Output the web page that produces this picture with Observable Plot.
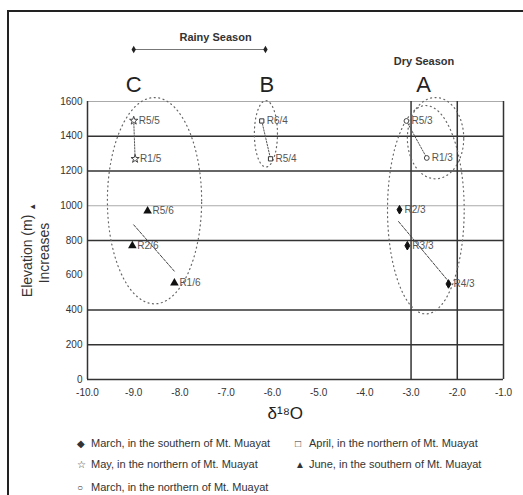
<!DOCTYPE html>
<html>
<head>
<meta charset="utf-8">
<script src="https://cdn.jsdelivr.net/npm/d3@7"></script>
<script src="https://cdn.jsdelivr.net/npm/@observablehq/plot@0.6"></script>
<style>
  html, body { margin: 0; padding: 0; background: #fff; overflow: hidden; width: 523px; height: 495px; }
  body { position: relative; font-family: "Liberation Sans", Arial, sans-serif; color: #333; }
  #frame { position: absolute; left: 7px; top: 10px; width: 700px; height: 700px; border: 2.5px solid #222; }
  #chart { position: absolute; left: 0; top: 0; }
  .ytitle { position: absolute; transform: translate(-50%, -50%) rotate(-90deg); white-space: nowrap; font-size: 14px; color: #333; }
  .leg { position: absolute; font-size: 11px; color: #333; white-space: nowrap; transform: translateY(-50%); }
  .sym { display: inline-block; width: 14px; font-size: 10px; }
</style>
</head>
<body>
<div id="frame"></div>
<div id="chart"></div>
<div class="ytitle" style="left:27px; top:250px;">Elevation (m) <span style="font-size:8px; position:relative; top:3px;">▲</span></div>
<div class="ytitle" style="left:44px; top:253px;">Increases</div>
<div id="legend"></div>
<script>
// ---- data ----
const pointLabels = ["R5/5", "R1/5", "R5/6", "R2/6", "R1/6", "R6/4", "R5/4", "R5/3", "R1/3", "R2/3", "R3/3", "R4/3"];
const pointX      = [-9.0, -8.97, -8.70, -9.03, -8.12, -6.23, -6.04, -3.10, -2.66, -3.25, -3.08, -2.19];
const pointY      = [1490, 1270, 970, 770, 555, 1488, 1270, 1488, 1275, 977, 770, 550];
const pointSeries = ["MayN", "MayN", "JuneS", "JuneS", "JuneS", "AprilN", "AprilN", "MarchN", "MarchN", "MarchS", "MarchS", "MarchS"];

const seriesNames = ["MarchS", "AprilN", "MayN", "JuneS", "MarchN"];
const seriesLegend = [
  "March, in the southern of Mt. Muayat",
  "April, in the northern of Mt. Muayat",
  "May, in the northern of Mt. Muayat",
  "June, in the southern of Mt. Muayat",
  "March, in the northern of Mt. Muayat"
];
const seriesGlyph = ["◆", "□", "☆", "▲", "○"];

// connectors between points of a group
const connectors = [["R5/5", "R1/5"], ["R6/4", "R5/4"], ["R5/3", "R1/3"]];
// trend lines
const trendC = [{x: -9.0, y: 890}, {x: -8.12, y: 623}];
const trendA = [{x: -3.27, y: 909}, {x: -2.14, y: 549}];

// dotted group ellipses: centre and radii
const ellipseCx = [-8.55, -6.14, -2.68, -2.47];
const ellipseCy = [1029, 1414, 977, 1389];
const ellipseRx = [1.02, 0.25, 0.83, 0.61];
const ellipseRy = [594, 191, 600, 234];

const xTicks = [-10, -9, -8, -7, -6, -5, -4, -3, -2, -1];
const yTicks = [0, 200, 400, 600, 800, 1000, 1200, 1400, 1600];
const darkGrid = [200, 400, 800, 1200, 1400];
const lightGrid = [1000, 1600];
const vGrid = [-3, -2, -1];

const groupLetters = ["C", "B", "A"];
const groupX = [-9.0, -6.12, -2.73];
const rainyEnds = [-9.0, -6.15];

// ---- build tables ----
const points = pointLabels.map((label, i) => ({label, x: pointX[i], y: pointY[i], series: pointSeries[i]}));
const byLabel = Object.fromEntries(points.map(p => [p.label, p]));
const connectorPts = connectors.flatMap(([a, b], k) => [{...byLabel[a], id: k}, {...byLabel[b], id: k}]);
const ellipsePts = [];
ellipseCx.forEach((cx, k) => {
  for (let i = 0; i < 72; i++) {
    const t = (i / 72) * 2 * Math.PI;
    ellipsePts.push({id: k, x: cx + ellipseRx[k] * Math.cos(t), y: ellipseCy[k] + ellipseRy[k] * Math.sin(t)});
  }
});
const rainyLine = rainyEnds.map(x => ({x, y: 1600}));

const styleFor = {
  MarchS: {symbol: "diamond", fill: "#111", stroke: "#111", r: 2.6},
  AprilN: {symbol: "square", fill: "white", stroke: "#333", r: 2.4},
  MayN:   {symbol: "star", fill: "white", stroke: "#444", r: 2.6},
  JuneS:  {symbol: "triangle", fill: "#111", stroke: "none", r: 3.2},
  MarchN: {symbol: "circle", fill: "white", stroke: "#444", r: 2.4}
};

const chart = Plot.plot({
  width: 523,
  height: 432,
  marginLeft: 87,
  marginRight: 20,
  marginTop: 101,
  marginBottom: 53,
  style: {fontFamily: "'Liberation Sans', Arial, sans-serif", fontSize: "10px", color: "#333", background: "transparent"},
  x: {domain: [-10, -1], ticks: xTicks, tickFormat: d => d.toFixed(1), tickSize: 0, tickPadding: 9, label: null},
  y: {domain: [0, 1600], ticks: yTicks, tickFormat: d => String(d), tickSize: 0, tickPadding: 5, label: null},
  marks: [
    Plot.ruleY(lightGrid, {stroke: "#aaa", strokeWidth: 1.2}),
    Plot.ruleY(darkGrid, {stroke: "#333", strokeWidth: 1.5}),
    Plot.ruleX(vGrid, {stroke: "#333", strokeWidth: 1.5}),
    Plot.ruleX([-10], {stroke: "#333", strokeWidth: 1.5}),
    Plot.ruleY([0], {stroke: "#333", strokeWidth: 1.5}),
    Plot.line(ellipsePts, {x: "x", y: "y", z: "id", curve: "linear-closed", stroke: "#666", strokeWidth: 1.2, strokeDasharray: "1,3.5"}),
    Plot.line(connectorPts, {x: "x", y: "y", z: "id", stroke: "#555", strokeWidth: 1, strokeDasharray: "1.5,1.5"}),
    Plot.line(trendC, {x: "x", y: "y", stroke: "#444", strokeWidth: 1, strokeDasharray: "3,1.5"}),
    Plot.line(trendA, {x: "x", y: "y", stroke: "#444", strokeWidth: 1, strokeDasharray: "3,1.5"}),
    ...seriesNames.map(s => Plot.dot(points.filter(p => p.series === s), {x: "x", y: "y", ...styleFor[s], strokeWidth: 1})),
    Plot.text(points, {x: "x", y: "y", text: "label", dx: 5, textAnchor: "start", fontSize: 10, fill: "#555"}),
    // top annotations
    Plot.text(["Rainy Season"], {x: [-7.23], text: d => d, frameAnchor: "top", dy: -68, fontWeight: "bold", fontSize: 11, fill: "#333"}),
    Plot.text(["Dry Season"], {x: [-2.72], text: d => d, frameAnchor: "top", dy: -44, fontWeight: "bold", fontSize: 11, fill: "#333"}),
    Plot.line(rainyLine, {x: "x", y: "y", dy: -52, stroke: "#777", strokeWidth: 1}),
    Plot.dot(rainyLine, {x: "x", y: "y", dy: -52, symbol: "diamond", fill: "#222", r: 2.3}),
    Plot.text(groupLetters, {x: groupX, text: d => d, frameAnchor: "top", dy: -25, fontSize: 22, fill: "#222"}),
    Plot.text(["δ¹⁸O"], {x: [-5.72], text: d => d, frameAnchor: "bottom", dy: 39, fontSize: 17, fill: "#222"})
  ]
});
document.getElementById("chart").appendChild(chart);

// legend
const legendPos = [[77, 443], [295, 443], [77, 464], [295, 464], [77, 487]];
const legend = document.getElementById("legend");
seriesNames.forEach((s, i) => {
  const d = document.createElement("div");
  d.className = "leg";
  d.style.left = legendPos[i][0] + "px";
  d.style.top = legendPos[i][1] + "px";
  d.innerHTML = `<span class="sym">${seriesGlyph[i]}</span>${seriesLegend[i]}`;
  legend.appendChild(d);
});
</script>
</body>
</html>
